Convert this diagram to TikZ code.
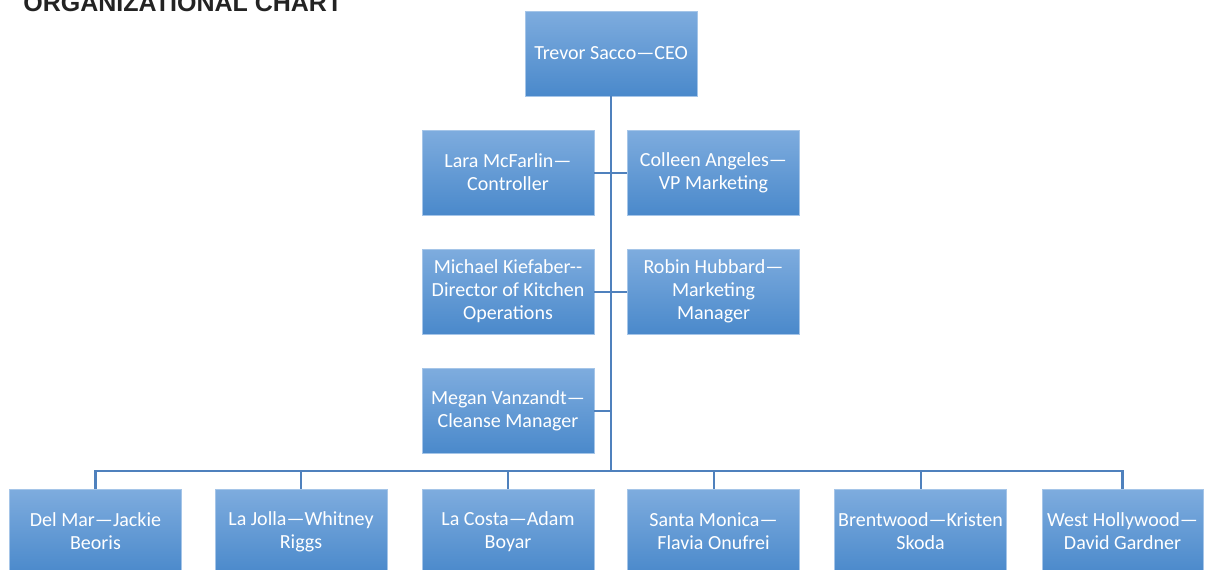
\documentclass[tikz,border=0pt]{standalone}
\usepackage{fontspec}
\setmainfont{Carlito}
\newfontfamily\titlefont{Liberation Sans}
\usetikzlibrary{positioning}
\definecolor{boxtop}{RGB}{126,172,222}
\definecolor{boxbot}{RGB}{74,137,203}
\definecolor{linkblue}{RGB}{79,129,189}
\definecolor{titlegray}{RGB}{35,35,35}

\begin{document}
\begin{tikzpicture}[x=0.5pt,y=-0.5pt,
    post/.style={rectangle,minimum width=86pt,minimum height=42.5pt,inner sep=1pt,
      top color=boxtop,bottom color=boxbot,draw=boxtop!70!white,line width=0.3pt,
      text=white,align=center,font=\fontsize{10}{11.5}\selectfont},
    link/.style={draw=linkblue,line width=1pt}]
  \useasboundingbox (0,0) rectangle (1210,569);
  % titre
  \node (TITLE) at (23,11) [anchor=base west,text=titlegray,inner sep=0pt,
    font=\titlefont\bfseries\fontsize{12.5}{14}\selectfont] {ORGANIZATIONAL CHART};
  % direction
  \node (CEO) at (611,53.5) [post] {Trevor Sacco—CEO};
  \node (LARA) at (508,172.5) [post] {Lara McFarlin—\\Controller};
  \node (COLLEEN) at (713.5,172.5) [post] {Colleen Angeles—\\VP Marketing};
  \node (MICHAEL) at (508,291.5) [post] {Michael Kiefaber-{}-\\Director of Kitchen\\Operations};
  \node (ROBIN) at (713.5,291.5) [post] {Robin Hubbard—\\Marketing\\Manager};
  \node (MEGAN) at (508,411) [post] {Megan Vanzandt—\\Cleanse Manager};
  % restaurants
  \node (DELMAR) at (95.5,531.5) [post] {Del Mar—Jackie\\Beoris};
  \node (LAJOLLA) at (301,531.5) [post] {La Jolla—Whitney\\Riggs};
  \node (LACOSTA) at (508,531.5) [post] {La Costa—Adam\\Boyar};
  \node (SANTAMONICA) at (713.5,531.5) [post] {Santa Monica—\\Flavia Onufrei};
  \node (BRENTWOOD) at (920.5,531.5) [post] {Brentwood—Kristen\\Skoda};
  \node (WESTHOLLYWOOD) at (1122.5,531.5) [post,minimum width=80.5pt] {West Hollywood—\\David Gardner};
  % liaisons
  \coordinate (BUS) at (611,471);
  \draw[link] (CEO.south) -- (BUS);
  \draw[link] (LARA.east) -- (COLLEEN.west);
  \draw[link] (MICHAEL.east) -- (ROBIN.west);
  \draw[link] (MEGAN.east) -- (MEGAN.east -| CEO.south);
  \draw[link,line width=1.3pt] (DELMAR.north) |- (BUS) -| (WESTHOLLYWOOD.north);
  \foreach \n in {LAJOLLA,LACOSTA,SANTAMONICA,BRENTWOOD}
    \draw[link] (\n.north) -- (\n.north |- BUS);
\end{tikzpicture}
\end{document}
